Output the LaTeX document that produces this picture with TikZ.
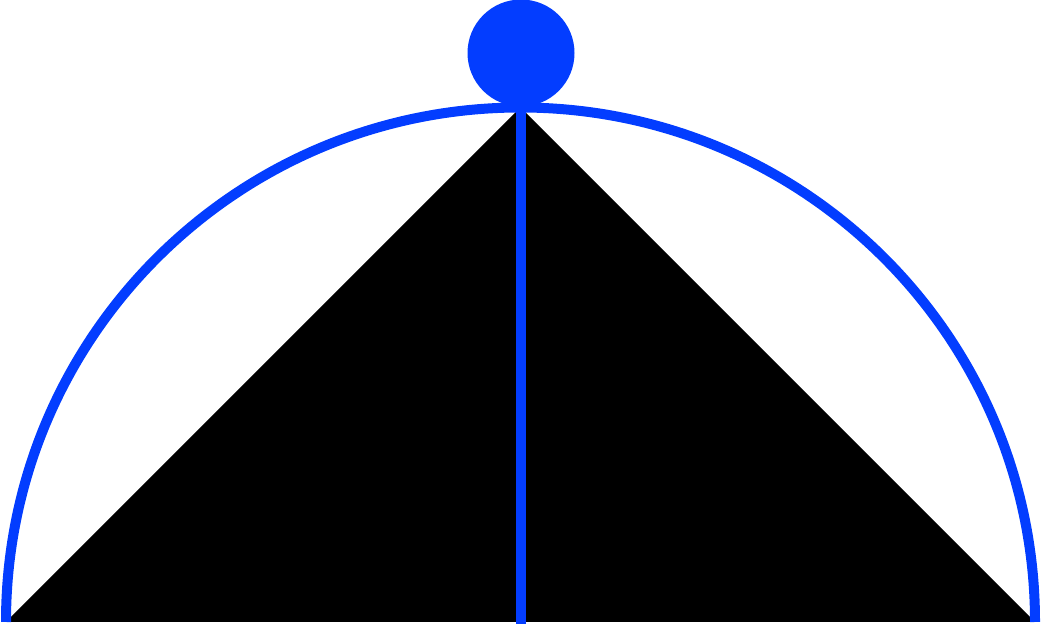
\documentclass[tikz,border=0pt]{standalone}
\usepackage{tikz}
\usetikzlibrary{positioning}
\definecolor{rodblue}{RGB}{3,61,255}

\begin{document}
\begin{tikzpicture}[x=0.75pt,y=0.75pt,bar/.style={rodblue,line width=7.5pt}]
  \useasboundingbox (0,0) rectangle (1042,624);
  \coordinate (L) at (6,2);
  \coordinate (R) at (1035,2);
  \coordinate (T) at (520.5,516.5);
  \coordinate (B) at (520.5,0);
  \fill[black] (L) -- (R) -- (T) -- cycle;
  \draw[bar] (R) arc[start angle=0,end angle=180,radius=514.5];
  \draw[bar] (T) -- (B);
  \fill[rodblue] (521,571) circle (53.5);
\end{tikzpicture}
\end{document}
